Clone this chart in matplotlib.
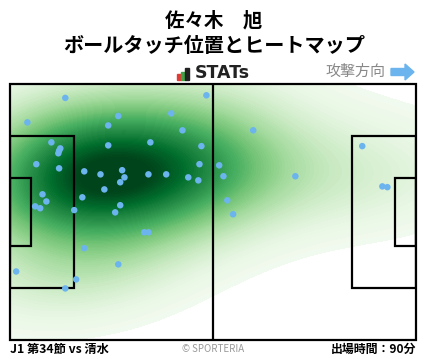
import numpy as np
import matplotlib
matplotlib.use("Agg")
import matplotlib.pyplot as plt
from matplotlib.patches import Rectangle, FancyArrow

plt.rcParams['font.family'] = ['Noto Sans CJK JP', 'DejaVu Sans']

# Touch positions (metres, pitch 105 x 68, attacking to the right)
touch_x = [14.3, 4.5, 28.0, 25.4, 41.7, 50.8, 44.6, 10.7, 13.0, 12.7, 12.5, 25.4, 36.3, 49.5,
           6.8, 12.7, 19.2, 23.4, 29.0, 29.6, 28.5, 35.8, 40.4, 46.1, 48.7, 49.0, 54.1, 24.4,
           18.7, 8.4, 9.4, 6.5, 7.8, 16.6, 28.5, 27.2, 34.7, 35.8, 19.2, 28.0, 1.6, 17.1, 14.3,
           62.9, 55.2, 56.2, 57.7, 73.8, 91.1, 96.3, 97.6]
touch_y = [64.3, 57.8, 59.5, 57.0, 60.2, 65.0, 55.7, 52.5, 50.9, 50.3, 49.6, 51.7, 52.5, 51.5,
           46.7, 45.6, 44.8, 44.0, 45.1, 43.2, 41.9, 44.0, 44.0, 43.2, 42.4, 46.7, 46.4, 40.0,
           37.9, 38.7, 36.8, 35.5, 35.0, 34.5, 35.8, 33.9, 28.6, 28.6, 24.4, 20.1, 18.2, 16.1, 13.7,
           55.7, 43.5, 37.1, 33.4, 43.5, 51.5, 40.8, 40.6]

title_name = "佐々木　旭"
title_sub = "ボールタッチ位置とヒートマップ"
match_label = "J1 第34節 vs 清水"
minutes_label = "出場時間：90分"

W, H = 428, 359
fig = plt.figure(figsize=(W / 100, H / 100), dpi=100)
ax = fig.add_axes([10 / W, (H - 340) / H, 406 / W, 256 / H])
ax.set_xlim(0, 105)
ax.set_ylim(0, 68)
ax.axis('off')

# KDE heatmap
xs = np.array(touch_x)
ys = np.array(touch_y)
data = np.vstack([xs, ys])
n = data.shape[1]
cov = np.cov(data)
factor = n ** (-1.0 / 6) * 1.5
kcov = cov * factor ** 2
inv = np.linalg.inv(kcov)
gx, gy = np.meshgrid(np.linspace(0, 105, 300), np.linspace(0, 68, 200))
pts = np.vstack([gx.ravel(), gy.ravel()])
dens = np.zeros(pts.shape[1])
for i in range(n):
    d = pts - data[:, i:i + 1]
    dens += np.exp(-0.5 * np.sum(d * (inv @ d), axis=0))
dens = dens.reshape(gx.shape)
dens /= dens.max()
levels = np.linspace(0.035, 1.0, 90)
ax.contourf(gx, gy, dens, levels=levels, cmap='Greens', vmin=0.0, vmax=0.95,
            extend='max', zorder=1)

# Pitch lines
lc = 'black'
lw = 1.6
ax.add_patch(Rectangle((0, 0), 105, 68, fill=False, ec=lc, lw=lw, zorder=3, clip_on=False))
ax.plot([52.5, 52.5], [0, 68], color=lc, lw=lw, zorder=3)
ax.add_patch(Rectangle((0, 13.84), 16.5, 40.32, fill=False, ec=lc, lw=lw, zorder=3))
ax.add_patch(Rectangle((0, 24.84), 5.5, 18.32, fill=False, ec=lc, lw=lw, zorder=3))
ax.add_patch(Rectangle((105 - 16.5, 13.84), 16.5, 40.32, fill=False, ec=lc, lw=lw, zorder=3))
ax.add_patch(Rectangle((105 - 5.5, 24.84), 5.5, 18.32, fill=False, ec=lc, lw=lw, zorder=3))

# Touch dots
ax.scatter(xs, ys, s=22, color='#6cb4ee', edgecolors='none', zorder=4)

# Titles
fig.text(214 / W, 1 - 21 / H, title_name, ha='center', va='center', fontsize=14, fontweight='bold')
fig.text(214 / W, 1 - 46 / H, title_sub, ha='center', va='center', fontsize=14.5, fontweight='bold')

# STATs logo
for (x0, y0, w, h, c) in [(177, 74, 3.5, 5.5, '#e53935'), (181, 72, 3.5, 7.5, '#43a047'), (185, 68, 3.8, 11.5, '#222222')]:
    fig.patches.append(Rectangle((x0 / W, 1 - (y0 + h) / H), w / W, h / H, transform=fig.transFigure,
                                 color=c, figure=fig))
fig.text(195 / W, 1 - 73.5 / H, "STATs", ha='left', va='center', fontsize=12.5, fontweight='bold',
         color='#222222', family='DejaVu Sans')

# attack direction
fig.text(385 / W, 1 - 72 / H, "攻撃方向", ha='right', va='center', fontsize=10.8, color='#888888')
fig.patches.append(FancyArrow(391 / W, 1 - 72 / H, 14 / W, 0, width=7 / H, head_width=16 / H,
                              head_length=9 / W, length_includes_head=False,
                              transform=fig.transFigure, color='#6cb4ee', figure=fig))

# footer
fig.text(10 / W, 1 - 349 / H, match_label, ha='left', va='center', fontsize=8.8, fontweight='bold')
fig.text(213 / W, 1 - 349 / H, "© SPORTERIA", ha='center', va='center', fontsize=7, color='#999999')
fig.text(416 / W, 1 - 349 / H, minutes_label, ha='right', va='center', fontsize=8.6, fontweight='bold')

fig.savefig('out.png', dpi=100)
